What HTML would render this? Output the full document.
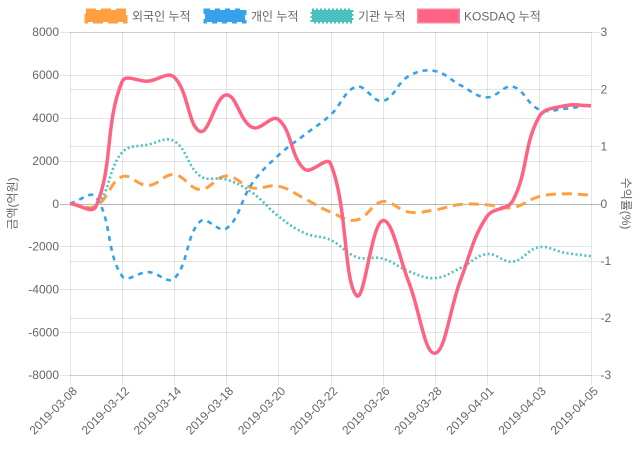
<!DOCTYPE html>
<html>
<head>
<meta charset="utf-8">
<style>
  html,body{margin:0;padding:0;background:#fff;}
  body{width:640px;height:450px;overflow:hidden;}
  svg{display:block;}
  text{font-family:"Liberation Sans","Noto Sans CJK KR",sans-serif;font-size:12px;fill:#666;}
</style>
</head>
<body>
<svg id="c" width="640" height="450" viewBox="0 0 640 450" xmlns="http://www.w3.org/2000/svg">
  <rect width="640" height="450" fill="#fff"/>
  <g id="grid"></g>

  <!-- Legend -->
  <rect x="86" y="10" width="40" height="12" fill="rgb(255,159,64)" stroke="rgb(255,159,64)" stroke-width="3" stroke-dasharray="10,5"/>
  <text x="132" y="20.5">외국인 누적</text>
  <rect x="205" y="10" width="40" height="12" fill="rgb(54,162,235)" stroke="rgb(54,162,235)" stroke-width="3" stroke-dasharray="5,5"/>
  <text x="251" y="20.5">개인 누적</text>
  <rect x="312" y="10" width="40" height="12" fill="rgb(75,192,192)" stroke="rgb(75,192,192)" stroke-width="3" stroke-dasharray="2,2"/>
  <text x="358" y="20.5">기관 누적</text>
  <rect x="418.5" y="10" width="40" height="12" fill="rgb(255,99,132)" stroke="rgba(255,99,132,0.8)" stroke-width="3"/>
  <text x="464" y="20.5">KOSDAQ 누적</text>

  <!-- Left axis labels -->
  <g text-anchor="end">
    <text x="59" y="36">8000</text>
    <text x="59" y="79">6000</text>
    <text x="59" y="122">4000</text>
    <text x="59" y="165">2000</text>
    <text x="59" y="208">0</text>
    <text x="59" y="250.5">-2000</text>
    <text x="59" y="293.5">-4000</text>
    <text x="59" y="336.5">-6000</text>
    <text x="59" y="379">-8000</text>
  </g>
  <!-- Right axis labels -->
  <g text-anchor="start">
    <text x="600.5" y="36">3</text>
    <text x="600.5" y="93.5">2</text>
    <text x="600.5" y="150.5">1</text>
    <text x="600.5" y="208">0</text>
    <text x="600.5" y="265">-1</text>
    <text x="600.5" y="322">-2</text>
    <text x="600.5" y="379">-3</text>
  </g>
  <!-- Axis titles -->
  <text transform="translate(16.5,203.5) rotate(-90)" text-anchor="middle">금액(억원)</text>
  <text transform="translate(622,203.5) rotate(90)" text-anchor="middle">수익률(%)</text>

  <!-- X labels -->
  <g text-anchor="end">
    <text transform="translate(75,389) rotate(-45)" dy="4">2019-03-08</text>
    <text transform="translate(127.1,389) rotate(-45)" dy="4">2019-03-12</text>
    <text transform="translate(179.2,389) rotate(-45)" dy="4">2019-03-14</text>
    <text transform="translate(231.3,389) rotate(-45)" dy="4">2019-03-18</text>
    <text transform="translate(283.4,389) rotate(-45)" dy="4">2019-03-20</text>
    <text transform="translate(335.5,389) rotate(-45)" dy="4">2019-03-22</text>
    <text transform="translate(387.6,389) rotate(-45)" dy="4">2019-03-26</text>
    <text transform="translate(439.7,389) rotate(-45)" dy="4">2019-03-28</text>
    <text transform="translate(491.8,389) rotate(-45)" dy="4">2019-04-01</text>
    <text transform="translate(543.9,389) rotate(-45)" dy="4">2019-04-03</text>
    <text transform="translate(596,389) rotate(-45)" dy="4">2019-04-05</text>
  </g>

  <g id="series"></g>
</svg>
<script>
(function(){
  var NS="http://www.w3.org/2000/svg";
  var L=70,R=591,T=32,B=375,Z=(T+B)/2,H=(B-T)/2;
  var dx=(R-L)/20;
  var grid=document.getElementById('grid');
  function line(x1,y1,x2,y2,col,w){
    var e=document.createElementNS(NS,'line');
    e.setAttribute('x1',x1);e.setAttribute('y1',y1);e.setAttribute('x2',x2);e.setAttribute('y2',y2);
    e.setAttribute('stroke',col);e.setAttribute('stroke-width',w||1);
    grid.appendChild(e);
  }
  var g='rgba(0,0,0,0.1)';
  for(var k=0;k<=10;k++){
    var x=Math.round(L+k*2*dx)+0.5;
    line(x,T,x,B+10,g);
  }
  for(var k=0;k<=8;k++){
    var y=Math.round(T+k*(B-T)/8)+0.5;
    if(k===4) continue;
    line(L-10,y,R,y,g);
  }
  for(var k=0;k<=6;k++){
    var y=Math.round(T+k*(B-T)/6)+0.5;
    if(k===3) continue;
    line(L,y,R+10,y,g);
  }
  var zy=Math.round(Z)+0.5;
  line(L-10,zy,R+10,zy,'rgba(0,0,0,0.28)');

  function yl(v){return Z - v/8000*H;}
  function yr(v){return Z - v/3*H;}

  var orange=[0,-120,1250,840,1350,650,1280,730,810,230,-400,-770,90,-400,-300,-40,-60,-190,320,450,390];
  var blue=[0,300,-3390,-3200,-3500,-830,-1170,950,2250,3200,4130,5450,4780,5940,6180,5510,4950,5450,4390,4420,4620];
  var teal=[0,-120,2380,2750,2910,1280,1120,500,-590,-1380,-1700,-2500,-2570,-3160,-3480,-3000,-2360,-2710,-2040,-2300,-2460];
  var red=[0,-0.05,2.13,2.14,2.21,1.26,1.90,1.33,1.47,0.60,0.70,-1.61,-0.30,-1.37,-2.62,-1.33,-0.23,0.05,1.51,1.71,1.71];

  function clamp(v,a,b){return v<a?a:(v>b?b:v);}
  function pathFor(vals,fy){
    var pts=[];
    for(var i=0;i<vals.length;i++) pts.push([L+i*dx,fy(vals[i])]);
    var cps=[];
    for(var i=0;i<pts.length;i++){
      var p=pts[i],pr=pts[i-1]||p,nx=pts[i+1]||p;
      var d01=Math.hypot(p[0]-pr[0],p[1]-pr[1]);
      var d12=Math.hypot(nx[0]-p[0],nx[1]-p[1]);
      var s01=d01/(d01+d12),s12=d12/(d01+d12);
      if(isNaN(s01))s01=0; if(isNaN(s12))s12=0;
      var fa=0.4*s01,fb=0.4*s12;
      cps.push({
        px:clamp(p[0]-fa*(nx[0]-pr[0]),L,R), py:clamp(p[1]-fa*(nx[1]-pr[1]),T,B),
        nx:clamp(p[0]+fb*(nx[0]-pr[0]),L,R), ny:clamp(p[1]+fb*(nx[1]-pr[1]),T,B)
      });
    }
    var d='M'+pts[0][0].toFixed(2)+','+pts[0][1].toFixed(2);
    for(var i=1;i<pts.length;i++){
      d+='C'+cps[i-1].nx.toFixed(2)+','+cps[i-1].ny.toFixed(2)+' '+cps[i].px.toFixed(2)+','+cps[i].py.toFixed(2)+' '+pts[i][0].toFixed(2)+','+pts[i][1].toFixed(2);
    }
    return d;
  }
  var S=document.getElementById('series');
  function add(vals,fy,col,w,dash){
    var e=document.createElementNS(NS,'path');
    e.setAttribute('d',pathFor(vals,fy));
    e.setAttribute('fill','none');
    e.setAttribute('stroke',col);
    e.setAttribute('stroke-width',w);
    if(dash) e.setAttribute('stroke-dasharray',dash);
    S.appendChild(e);
  }
  add(orange,yl,'rgb(255,159,64)',3,'10,6');
  add(blue,yl,'rgb(54,162,235)',2.6,'5,5');
  add(teal,yl,'rgb(75,192,192)',2.6,'2,2.5');
  add(red,yr,'rgb(255,99,132)',3.5,null);
})();
</script>
</body>
</html>
